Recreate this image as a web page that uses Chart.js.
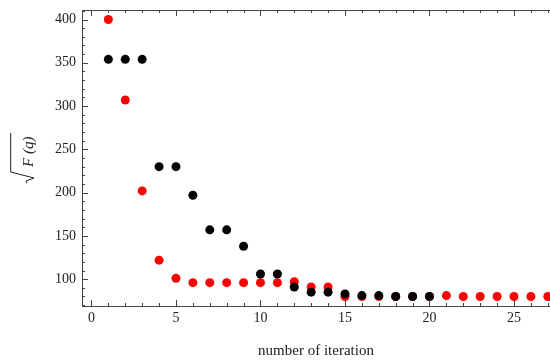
<!DOCTYPE html>
<html>
<head>
<meta charset="utf-8">
<script src="https://cdn.jsdelivr.net/npm/chart.js@4/dist/chart.umd.min.js"></script>
<style>
  html, body { margin: 0; padding: 0; background: #fff; }
  #wrap { width: 550px; height: 360px; }
</style>
</head>
<body>
<div id="wrap"><canvas id="iterChart"></canvas></div>
<script>
// iteration numbers
const blackIter = [1, 2, 3, 4, 5, 6, 7, 8, 9, 10, 11, 12, 13, 14, 15, 16, 17, 18, 19, 20];
const blackVals = [354, 354, 354, 230, 230, 197, 157, 157, 138, 106, 106, 91, 85, 85, 83, 81, 81, 80, 80, 80];

const redIter = [1, 2, 3, 4, 5, 6, 7, 8, 9, 10, 11, 12, 13, 14, 15, 16, 17, 18, 19, 20, 21, 22, 23, 24, 25, 26, 27];
const redVals = [400, 307, 202, 122, 101, 96, 96, 96, 96, 96, 96, 97, 91, 91, 80, 80, 80, 80, 80, 80, 81, 80, 80, 80, 80, 80, 80];

const xTicks = [0, 5, 10, 15, 20, 25];
const yTicks = [100, 150, 200, 250, 300, 350, 400];

const serif = "'Liberation Serif', 'DejaVu Serif', serif";

function toPoints(xs, ys) {
    return xs.map(function (x, i) { return { x: x, y: ys[i] }; });
}

// inward ticks + top frame line, Mathematica style
const frameTicks = {
    id: 'frameTicks',
    afterDatasetsDraw: function (chart) {
        const c = chart.ctx;
        const a = chart.chartArea;
        const xs = chart.scales.x;
        const ys = chart.scales.y;
        c.save();
        c.strokeStyle = '#444';
        c.lineWidth = 1;
        c.beginPath();
        c.moveTo(a.left, a.top + 0.5);
        c.lineTo(a.right, a.top + 0.5);
        for (let v = 0; v <= 27; v++) {
            const px = Math.round(xs.getPixelForValue(v)) + 0.5;
            const len = v % 5 === 0 ? 6 : 3;
            c.moveTo(px, a.bottom);
            c.lineTo(px, a.bottom - len);
            c.moveTo(px, a.top);
            c.lineTo(px, a.top + len);
        }
        for (let v = 70; v <= 410; v += 10) {
            const py = Math.round(ys.getPixelForValue(v)) + 0.5;
            const len = v % 50 === 0 ? 6 : 3;
            c.moveTo(a.left, py);
            c.lineTo(a.left + len, py);
        }
        c.stroke();

        // y title: sqrt F(q), drawn rotated (u along text, v across)
        c.translate(33, 157);
        c.rotate(-Math.PI / 2);
        c.fillStyle = '#222';
        c.strokeStyle = '#222';
        c.textBaseline = 'alphabetic';
        c.font = 'italic 15px ' + serif;
        c.fillText('F (q)', -10, 0);
        c.beginPath();
        c.moveTo(24, -22.3);
        c.lineTo(-15, -22.3);
        c.lineTo(-21, 1);
        c.lineTo(-24, -7);
        c.lineTo(-26, -6);
        c.stroke();
        c.restore();
    }
};

new Chart(document.getElementById('iterChart'), {
    type: 'scatter',
    data: {
        datasets: [
            {
                label: 'black',
                data: toPoints(blackIter, blackVals),
                backgroundColor: '#000',
                borderWidth: 0,
                pointRadius: 4.5,
                pointHoverRadius: 4.5
            },
            {
                label: 'red',
                data: toPoints(redIter, redVals),
                backgroundColor: '#f00',
                borderWidth: 0,
                pointRadius: 4.5,
                pointHoverRadius: 4.5
            }
        ]
    },
    options: {
        responsive: true,
        maintainAspectRatio: false,
        animation: false,
        layout: { autoPadding: false, padding: { top: 10, right: 0, left: 0, bottom: 0 } },
        plugins: {
            legend: { display: false },
            tooltip: { enabled: false }
        },
        scales: {
            x: {
                type: 'linear',
                min: -0.56,
                max: 27.13,
                afterBuildTicks: function (scale) {
                    scale.ticks = xTicks.map(function (v) { return { value: v }; });
                },
                afterFit: function (scale) {
                    scale.height = 54;
                    scale.paddingLeft = 0;
                    scale.paddingRight = 0;
                },
                grid: { display: false, drawTicks: false },
                border: { display: true, color: '#444', width: 1 },
                ticks: {
                    color: '#222',
                    padding: 4,
                    maxRotation: 0,
                    font: { family: serif, size: 14 }
                },
                title: {
                    display: true,
                    text: 'number of iteration',
                    color: '#222',
                    padding: { top: 16, bottom: 0 },
                    font: { family: serif, size: 15 }
                }
            },
            y: {
                type: 'linear',
                min: 69,
                max: 411,
                afterBuildTicks: function (scale) {
                    scale.ticks = yTicks.map(function (v) { return { value: v }; });
                },
                afterFit: function (scale) {
                    scale.width = 82;
                    scale.paddingTop = 0;
                    scale.paddingBottom = 0;
                },
                grid: { display: false, drawTicks: false },
                border: { display: true, color: '#444', width: 1 },
                ticks: {
                    color: '#222',
                    padding: 6,
                    font: { family: serif, size: 14 }
                }
            }
        }
    },
    plugins: [frameTicks]
});
</script>
</body>
</html>
